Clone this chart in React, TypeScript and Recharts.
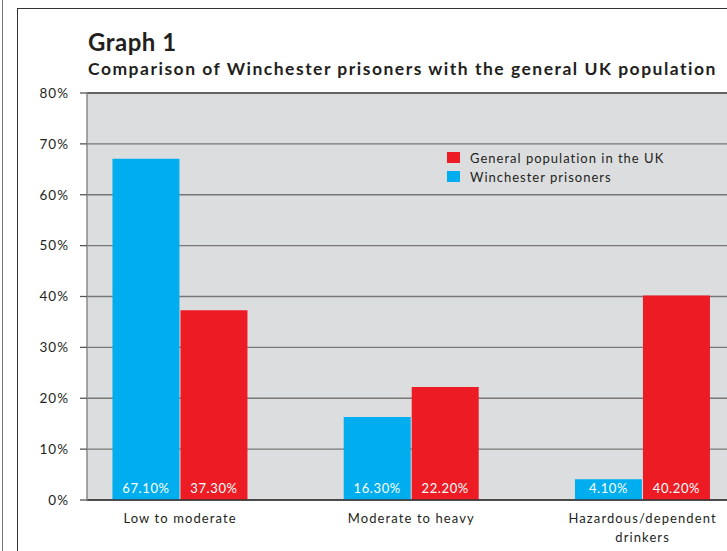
import React from 'react';
import { BarChart, Bar, XAxis, YAxis, CartesianGrid, ReferenceLine, LabelList, Text } from 'recharts';

const categories = ['Low to moderate', 'Moderate to heavy', 'Hazardous/dependent drinkers'];
const winchesterPrisoners = [67.1, 16.3, 4.1];
const generalPopulation = [37.3, 22.2, 40.2];
const yTicks = [0, 10, 20, 30, 40, 50, 60, 70, 80];

const series = [
  { key: 'winchester', name: 'Winchester prisoners', color: '#00aeef' },
  { key: 'general', name: 'General population in the UK', color: '#ed1c24' },
];

const data = categories.map((name, i) => ({
  idx: i,
  name,
  winchester: winchesterPrisoners[i],
  general: generalPopulation[i],
}));

const FONT = 'Lato, "Open Sans", sans-serif';
const INK = '#231f20';

const CategoryTick = (props: any) => {
  const { x, y, payload } = props;
  return (
    <Text x={x} y={y} dy={6} width={160} textAnchor="middle" verticalAnchor="start"
      lineHeight={19} fill={INK} fontSize={13} fontFamily={FONT} style={{ letterSpacing: 1.1 }}>
      {categories[payload.value]}
    </Text>
  );
};

// legend lists the UK population first, like the original
const LegendBox = () => (
  <div style={{ position: 'absolute', left: 447, top: 148, fontFamily: FONT, fontSize: 13, color: INK, letterSpacing: 1 }}>
    {[...series].reverse().map((s) => (
      <div key={s.key} style={{ display: 'flex', alignItems: 'center', height: 19 }}>
        <span style={{ width: 13, height: 11, background: s.color, marginRight: 10, display: 'inline-block' }} />
        {s.name}
      </div>
    ))}
  </div>
);

export default function App() {
  return (
    <div style={{ position: 'absolute', left: 0, top: 0, width: 727, height: 551, overflow: 'hidden', background: '#fff' }}>
      <div style={{ position: 'absolute', left: 2, top: 0, width: 0, height: 551, borderLeft: '1px solid #777' }} />
      <div style={{ position: 'absolute', left: 17, top: 8, width: 800, height: 600, borderLeft: '1.5px solid #333', borderTop: '1.5px solid #333' }} />
      <div style={{ position: 'absolute', left: 88, top: 28, fontFamily: FONT, fontWeight: 700, fontSize: 24, color: INK, lineHeight: '28px', letterSpacing: 0.5 }}>
        Graph 1
      </div>
      <div style={{ position: 'absolute', left: 88, top: 58, fontFamily: FONT, fontWeight: 700, fontSize: 17.5, color: INK, lineHeight: '22px', whiteSpace: 'nowrap', letterSpacing: 1.5 }}>
        Comparison of Winchester prisoners with the general UK population
      </div>
      <div style={{ position: 'absolute', left: 0, top: 0 }}>
        <BarChart width={727} height={551} data={data} margin={{ top: 93, right: 0, bottom: 0, left: 17 }}
          barSize={67} barGap={1}>
          <CartesianGrid fill="#dcdddf" vertical={false} stroke="#777" strokeWidth={1.3} />
          <XAxis dataKey="idx" type="number" domain={[-0.4025, 2.365]} allowDataOverflow ticks={[0, 1, 2]}
            height={51} axisLine={{ stroke: '#333', strokeWidth: 1.5 }} tickLine={false} tick={<CategoryTick />} />
          <YAxis type="number" domain={[0, 80]} ticks={yTicks} width={70} tickSize={7} tickMargin={11}
            tickFormatter={(v: number) => `${v}%`} axisLine={{ stroke: '#8a8a8a', strokeWidth: 1.5 }}
            tickLine={{ stroke: '#555', strokeWidth: 1.3 }}
            tick={{ fill: INK, fontSize: 13.5, fontFamily: FONT, style: { letterSpacing: 1 } }} />
          <ReferenceLine y={80} stroke="#333" strokeWidth={1.2} />
          {series.map((s) => (
            <Bar key={s.key} dataKey={s.key} name={s.name} fill={s.color} isAnimationActive={false}>
              <LabelList dataKey={s.key} position="insideBottom" offset={7} fill="#fff" fontSize={13}
                fontFamily={FONT} style={{ letterSpacing: 0.6 }}
                formatter={(v: any) => `${Number(v).toFixed(2)}%`} />
            </Bar>
          ))}
        </BarChart>
      </div>
      <LegendBox />
    </div>
  );
}
